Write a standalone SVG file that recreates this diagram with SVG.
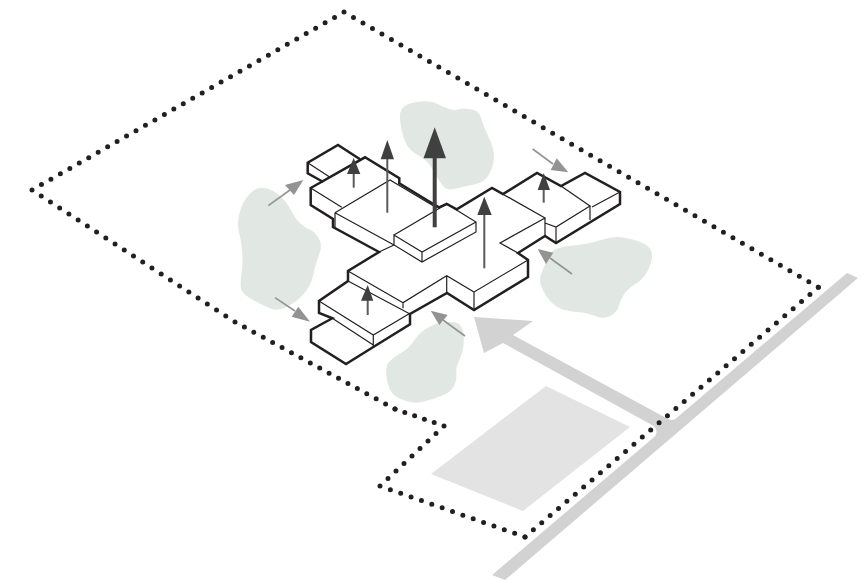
<svg xmlns="http://www.w3.org/2000/svg" width="868" height="580" viewBox="0 0 868 580">
<style>
.bg{fill:#fff}
.tree{fill:#e1e8e3}
.road{fill:#d2d2d2}
.lot{fill:#e3e3e3}
.dot{fill:none;stroke:#231f20;stroke-width:5;stroke-linecap:round;stroke-dasharray:0 1}
.thick{fill:none;stroke:#231f20;stroke-width:2.5;stroke-linejoin:miter}
.thin{fill:none;stroke:#231f20;stroke-width:1.2}
.up{fill:#404040}
.upl{stroke:#5a5a5a;stroke-width:2;fill:none}
.side{fill:#939393}
.sidel{stroke:#939393;stroke-width:1.6;fill:none}
</style>
<rect class="bg" width="868" height="580"/>
<g id="trees">
<path class="tree" transform="translate(388.3 93.5) scale(.3433)" d="M35 85Q30 50 45 38.5Q60 27 92.5 23.5Q125 20 142.5 30Q160 40 177.5 45Q195 50 205 46Q215 42 240 46Q265 50 270 70Q275 90 292.5 127.5Q310 165 307.5 190Q305 215 292.5 237.5Q280 260 250 265Q220 270 195 277.5Q170 285 157.5 267.5Q145 250 130 222.5Q115 195 87.5 180Q60 165 50 142.5Q40 120 35 85Z"/>
<path class="tree" transform="translate(228.5 172.75) scale(.3433)" d="M75 50Q90 40 110 45Q130 50 150 67.5Q170 85 182.5 110Q195 135 210 148.5Q225 162 237.5 166Q250 170 262.5 190Q275 210 265 235Q255 260 247.5 295Q240 330 220 352.5Q200 375 170 390Q140 405 120 395Q100 385 75 372.5Q50 360 41 347.5Q32 335 37 302.5Q42 270 40 235Q38 200 31.5 177.5Q25 155 30 127.5Q35 100 47.5 80Q60 60 75 50Z"/>
<path class="tree" transform="translate(528 228.6) scale(.3433)" d="M55 90Q65 65 87.5 57.5Q110 50 145 47.5Q180 45 212.5 33.5Q245 22 272.5 25Q300 28 327.5 39Q355 50 360 67.5Q365 85 352.5 115Q340 145 315 160Q290 175 279 192.5Q268 210 265 225Q262 240 243.5 252.5Q225 265 197.5 255Q170 245 135 242.5Q100 240 80 225Q60 210 45 182.5Q30 155 37.5 135Q45 115 55 90Z"/>
<path class="tree" transform="translate(378.6 308.4) scale(.3433)" d="M137.5 60Q160 45 180 41.5Q200 38 220 40Q240 42 245 63.5Q250 85 247.5 107.5Q245 130 235 150Q225 170 226.5 190Q228 210 219 227.5Q210 245 182.5 255Q155 265 132.5 271.5Q110 278 85 271.5Q60 265 45 252.5Q30 240 24 205Q18 170 29 157.5Q40 145 65 130Q90 115 102.5 95Q115 75 137.5 60Z"/>
</g>
<g id="site">
<polygon class="lot" points="546,386 630,427 523,511 431,474"/>
<polygon class="road" points="847,273 858,278 505,580 492,575"/>
<path class="road" d="M474 317L533 321L513 335L666.7 418.3Q671.5 421.5 676.7 418.6L672 432L655 436.4Q659 430 653.3 425.7L503 343L484 353Z"/>
</g>
<g id="boundary">
<line class="dot" pathLength="50" x1="344" y1="12" x2="818.3" y2="287.3"/>
<line class="dot" pathLength="35" x1="818.3" y1="287.3" x2="525" y2="537"/>
<line class="dot" pathLength="14" x1="525" y1="537" x2="380" y2="486"/>
<line class="dot" pathLength="8" x1="380" y1="486" x2="444" y2="426"/>
<line class="dot" pathLength="5" x1="444" y1="426" x2="395" y2="409"/>
<line class="dot" pathLength="17" x1="395" y1="409" x2="235" y2="322"/>
<line class="dot" pathLength="22" x1="235" y1="322" x2="32" y2="190"/>
<line class="dot" pathLength="33" x1="32" y1="190" x2="344" y2="12"/>
</g>
<g id="building">
<path class="thick" d="M360 159.3L338 145L307.7 162.7V173.3L323.3 182"/>
<path class="thick" d="M310.7 188L365 157.3L399.3 178.3V183.3L433.3 204L439 207.3L446.7 204L456.7 209.3L492 188L503 194L537 173L561 186L585 173L620 192V204L556 243L545 236L518 253L528 260V277L474 310L447 293L410 314V324.3L373.3 347L346 364L311 342V330L332.3 318.3L319 313V301L348 281V271L379 252L333 227V219L310.7 205Z"/>
<path class="thin" d="M307.7 162.7L330 177.3M310.7 188L341.7 207.3M335 212.7L390 180L437 208M335 212.7L394 245M335 212.7V227.3M394 235L446.7 204L476 222V232L422 262L394 245V235L422 252L476 222M422 252V262M394 245L379 252"/>
<path class="thin" d="M492 188L545 218L500 243L518 253M545 218V236M545 223L556 227L590 206L561 186M556 227V243M590 206V220M592 207L620 192M528 260L474 292V310M474 292L446.7 275.7L403 302.7V308.3M446.7 275.7V293M403 302.7L348 271M348 281L410 314M319 301L373.3 335L410 313.3M373.3 335V346.7M332.3 318.3L373.3 345"/>
</g>
<g id="arrows-up">
<line class="upl" style="stroke:#404040;stroke-width:4" x1="434.7" y1="155" x2="434.7" y2="227.3"/><polygon class="up" points="434.7,127.3 446,158.3 423.5,158.3"/>
<line class="upl" x1="387.3" y1="155" x2="387.3" y2="212.7"/><polygon class="up" points="387.3,140 394,159.3 380.7,159.3"/>
<line class="upl" x1="353.7" y1="170" x2="353.7" y2="187.7"/><polygon class="up" points="353.7,158 360.3,174 347,174"/>
<line class="upl" x1="484.3" y1="212" x2="484.3" y2="268.3"/><polygon class="up" points="484.3,196.7 491.7,215 477.3,215"/>
<line class="upl" x1="543.7" y1="186" x2="543.7" y2="202.7"/><polygon class="up" points="543.7,173 550,190 537.7,190"/>
<line class="upl" x1="367.7" y1="297" x2="367.7" y2="315"/><polygon class="up" points="367.7,285 373.3,300.7 361,300.7"/>
</g>
<g id="arrows-side">
<line class="sidel" x1="268.3" y1="205.7" x2="290" y2="190"/><polygon class="side" points="303.3,180 294,195 285,185"/>
<line class="sidel" x1="275" y1="297.7" x2="295" y2="311"/><polygon class="side" points="310,321.7 291.7,316.7 298.3,306.7"/>
<line class="sidel" x1="532.7" y1="149" x2="553" y2="164"/><polygon class="side" points="568.3,172.3 550.7,170 556.7,158.3"/>
<line class="sidel" x1="572" y1="274" x2="550" y2="258"/><polygon class="side" points="537.7,249 553.3,252.7 546,264"/>
<line class="sidel" x1="465" y1="336" x2="443" y2="320"/><polygon class="side" points="430.7,310.7 447.7,315 439.3,325"/>
</g>
</svg>
